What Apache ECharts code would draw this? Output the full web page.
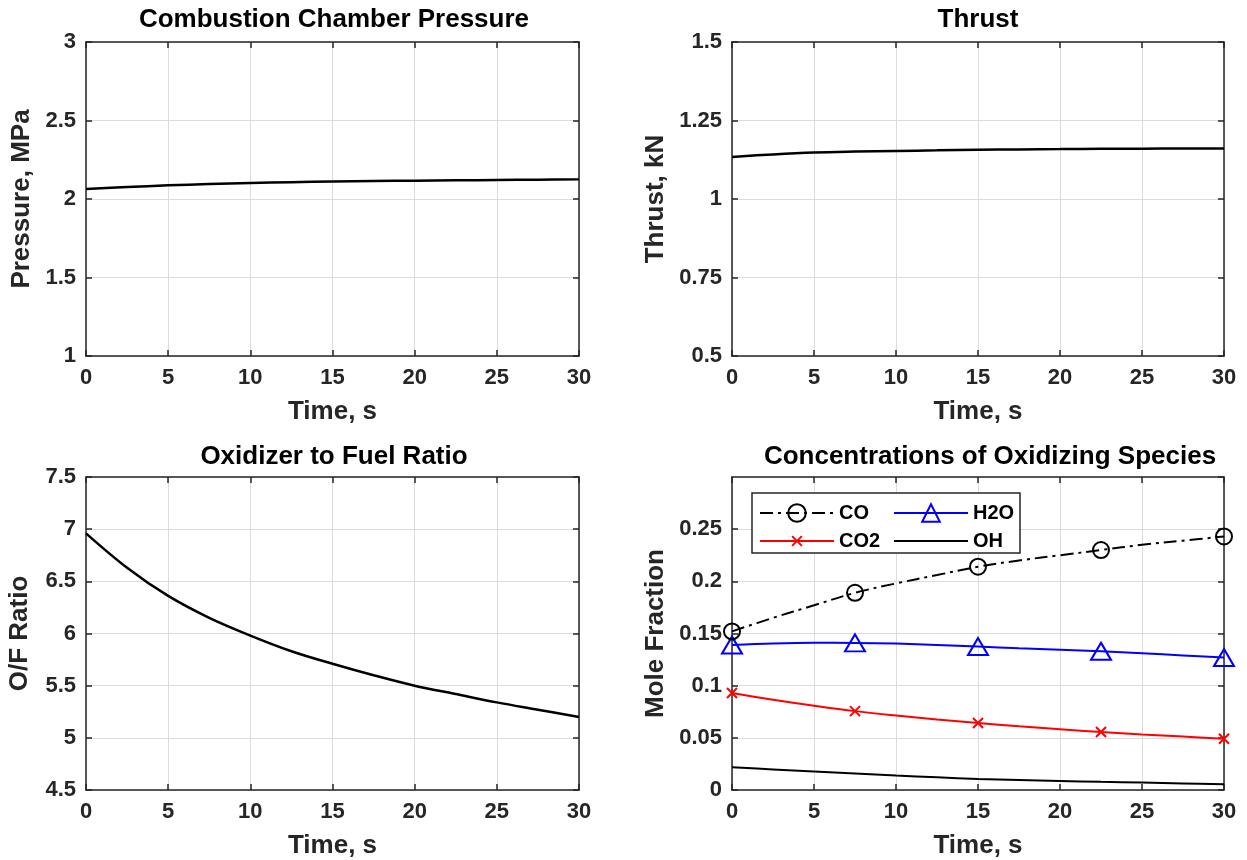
<!DOCTYPE html>
<html>
<head>
<meta charset="utf-8">
<script src="https://cdn.jsdelivr.net/npm/echarts@6/dist/echarts.min.js"></script>
<style>
  html, body { margin: 0; padding: 0; background: #fff; }
  #chart { width: 1247px; height: 860px; }
</style>
</head>
<body>
<div id="chart"></div>
<script>
// Burn time samples, seconds
const timeAxis = [0, 2.5, 5, 7.5, 10, 12.5, 15, 17.5, 20, 22.5, 25, 27.5, 30];
// Combustion chamber pressure, MPa
const pressure = [2.064, 2.076, 2.087, 2.095, 2.102, 2.107, 2.111, 2.114, 2.117, 2.119, 2.121, 2.123, 2.125];
// Thrust, kN
const thrust = [1.134, 1.142, 1.148, 1.151, 1.153, 1.155, 1.157, 1.158, 1.159, 1.160, 1.160, 1.161, 1.161];
// Oxidizer to fuel ratio
const ofRatio = [6.96, 6.63, 6.36, 6.15, 5.98, 5.83, 5.71, 5.60, 5.50, 5.42, 5.34, 5.27, 5.20];
// Mole fractions of the oxidizing species
const moleCO  = [0.152, 0.165, 0.177, 0.189, 0.198, 0.206, 0.214, 0.220, 0.225, 0.230, 0.235, 0.239, 0.243];
const moleH2O = [0.139, 0.1405, 0.1412, 0.141, 0.1403, 0.139, 0.1375, 0.1358, 0.1344, 0.133, 0.131, 0.129, 0.127];
const moleCO2 = [0.093, 0.0865, 0.0808, 0.0756, 0.0714, 0.0676, 0.0642, 0.0610, 0.0582, 0.0556, 0.0533, 0.0512, 0.0492];
const moleOH  = [0.0218, 0.0197, 0.0177, 0.0158, 0.0139, 0.0122, 0.0106, 0.0095, 0.0086, 0.0078, 0.0071, 0.0063, 0.0055];
// Times at which species markers are drawn
const markerTimes = [0, 7.5, 15, 22.5, 30];
// Legend columns
const legendLeftColumn = ['CO', 'CO2'];
const legendRightColumn = ['H2O', 'OH'];

const FONT = 'Liberation Sans, Arial, sans-serif';
const AXIS_COLOR = '#262626';
const GRID_COLOR = '#dcdcdc';

const grids = [
  { left: 86,  top: 42,  width: 493, height: 314 },
  { left: 732, top: 42,  width: 492, height: 314 },
  { left: 86,  top: 477, width: 493, height: 313 },
  { left: 732, top: 477, width: 492, height: 313 }
];

const yRanges = [
  { min: 1,   max: 3,   interval: 0.5,  name: 'Pressure, MPa', gap: 51 },
  { min: 0.5, max: 1.5, interval: 0.25, name: 'Thrust, kN',    gap: 63 },
  { min: 4.5, max: 7.5, interval: 0.5,  name: 'O/F Ratio',     gap: 53 },
  { min: 0,   max: 0.3, interval: 0.05, name: 'Mole Fraction', gap: 63, hideMax: true }
];

const titles = [
  { text: 'Combustion Chamber Pressure',         x: 334, y: 7 },
  { text: 'Thrust',                              x: 978, y: 7 },
  { text: 'Oxidizer to Fuel Ratio',              x: 334, y: 444 },
  { text: 'Concentrations of Oxidizing Species', x: 990, y: 444 }
];

const xAxes = [];
const yAxes = [];
grids.forEach((g, i) => {
  const tickIn = { show: true, inside: true, length: 6, lineStyle: { color: AXIS_COLOR, width: 1.5 } };
  const line = { show: true, onZero: false, lineStyle: { color: AXIS_COLOR, width: 1.5 } };
  xAxes.push({
    type: 'value', gridIndex: i, position: 'bottom', min: 0, max: 30, interval: 5,
    axisLine: line, axisTick: tickIn,
    axisLabel: { margin: 11, fontFamily: FONT, fontWeight: 'bold', fontSize: 22, color: AXIS_COLOR },
    splitLine: { show: true, lineStyle: { color: GRID_COLOR, width: 1 } },
    name: 'Time, s', nameLocation: 'middle', nameGap: 43,
    nameTextStyle: { fontFamily: FONT, fontWeight: 'bold', fontSize: 26, color: AXIS_COLOR }
  });
  xAxes.push({
    type: 'value', gridIndex: i, position: 'top', min: 0, max: 30, interval: 5,
    axisLine: line, axisTick: tickIn, axisLabel: { show: false }, splitLine: { show: false }
  });
  const r = yRanges[i];
  yAxes.push({
    type: 'value', gridIndex: i, position: 'left', min: r.min, max: r.max, interval: r.interval,
    axisLine: line, axisTick: tickIn,
    axisLabel: { margin: 10, fontFamily: FONT, fontWeight: 'bold', fontSize: 22, color: AXIS_COLOR,
                 showMaxLabel: !r.hideMax },
    splitLine: { show: true, lineStyle: { color: GRID_COLOR, width: 1 } },
    name: r.name, nameLocation: 'middle', nameGap: r.gap,
    nameTextStyle: { fontFamily: FONT, fontWeight: 'bold', fontSize: 26, color: AXIS_COLOR }
  });
  yAxes.push({
    type: 'value', gridIndex: i, position: 'right', min: r.min, max: r.max, interval: r.interval,
    axisLine: line, axisTick: tickIn, axisLabel: { show: false }, splitLine: { show: false }
  });
});

const pairs = (vals) => timeAxis.map((t, i) => [t, vals[i]]);
const markedPairs = (vals) => timeAxis.map((t, i) =>
  markerTimes.includes(t) ? { value: [t, vals[i]] } : { value: [t, vals[i]], symbol: 'none' });

const plainLine = (vals, idx) => ({
  type: 'line', xAxisIndex: idx * 2, yAxisIndex: idx * 2, data: pairs(vals),
  smooth: 0.35, symbol: 'none',
  lineStyle: { color: '#000', width: 2.5 }, silent: true
});

// "x" marker; the extra move-to points pad the box so the cross stays small in the legend too
const CROSS = 'path://M-4,-4M0,0L10,10M0,10L10,0M14,14';

const series = [
  plainLine(pressure, 0),
  plainLine(thrust, 1),
  plainLine(ofRatio, 2),
  {
    name: 'CO', type: 'line', xAxisIndex: 6, yAxisIndex: 6, data: markedPairs(moleCO),
    smooth: 0.35, symbol: 'circle', symbolSize: 16, showAllSymbol: true,
    lineStyle: { color: '#000', width: 2, type: [13, 5, 3, 5] },
    itemStyle: { color: 'rgba(255,255,255,0)', borderColor: '#000', borderWidth: 2 }, z: 4
  },
  {
    name: 'H2O', type: 'line', xAxisIndex: 6, yAxisIndex: 6, data: markedPairs(moleH2O),
    smooth: 0.35, symbol: 'triangle', symbolSize: [20, 17], showAllSymbol: true,
    lineStyle: { color: '#0000ff', width: 2 },
    itemStyle: { color: 'rgba(255,255,255,0)', borderColor: '#0000ff', borderWidth: 2 }, z: 3
  },
  {
    name: 'CO2', type: 'line', xAxisIndex: 6, yAxisIndex: 6, data: markedPairs(moleCO2),
    smooth: 0.35, symbol: CROSS, symbolSize: 18, showAllSymbol: true,
    lineStyle: { color: '#ff0000', width: 2 },
    itemStyle: { color: 'rgba(255,255,255,0)', borderColor: '#ff0000', borderWidth: 2 }, z: 3
  },
  {
    name: 'OH', type: 'line', xAxisIndex: 6, yAxisIndex: 6, data: pairs(moleOH),
    smooth: 0.35, symbol: 'none',
    lineStyle: { color: '#000', width: 2 },
    itemStyle: { color: '#000' }, z: 3
  }
];

const legendColumn = (names, left) => ({
  data: names.map(n => n === 'OH' ? { name: n, itemStyle: { opacity: 0 } } : n),
  left: left, top: 493,
  orient: 'vertical', align: 'left',
  itemWidth: 74, itemHeight: 22, itemGap: 8,
  padding: [10, 0, 4, 7],
  textStyle: { fontFamily: FONT, fontWeight: 'bold', fontSize: 20, color: '#000' },
  selectedMode: false, z: 10
});

const chart = echarts.init(document.getElementById('chart'), null, { renderer: 'canvas' });
chart.setOption({
  backgroundColor: '#fff',
  animation: false,
  title: titles.map(t => ({
    text: t.text, left: t.x, top: t.y, textAlign: 'center', padding: 0,
    textStyle: { fontFamily: FONT, fontWeight: 'bold', fontSize: 26, color: '#000' }
  })),
  // Legend frame shared by both legend columns
  graphic: [{
    type: 'rect', z: 9, silent: true,
    shape: { x: 752, y: 493, width: 268, height: 60 },
    style: { fill: '#fff', stroke: AXIS_COLOR, lineWidth: 1.5 }
  }],
  legend: [legendColumn(legendLeftColumn, 752), legendColumn(legendRightColumn, 886)],
  grid: grids,
  xAxis: xAxes,
  yAxis: yAxes,
  series: series
});
</script>
</body>
</html>
